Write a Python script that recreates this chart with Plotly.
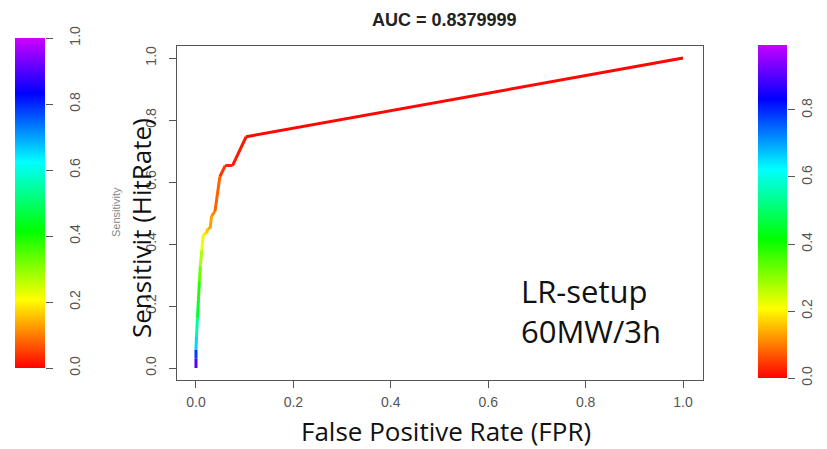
import plotly.graph_objects as go
from plotly.colors import sample_colorscale

# ROC curve (false positive rate, hit rate, cutoff)
fpr = [0, 0, 0, 0.001, 0.003, 0.005, 0.007, 0.009, 0.012, 0.015, 0.022,
       0.024, 0.029, 0.032, 0.039, 0.049, 0.06, 0.075, 0.103, 1.0]
tpr = [0, 0.03, 0.06, 0.10, 0.16, 0.22, 0.28, 0.33, 0.38, 0.43, 0.435,
       0.45, 0.45, 0.49, 0.505, 0.617, 0.653, 0.653, 0.746, 1.0]
cutoff = [0.95, 0.85, 0.72, 0.6, 0.5, 0.42, 0.36, 0.3, 0.25, 0.2, 0.17,
          0.15, 0.14, 0.12, 0.1, 0.06, 0.03, 0.03, 0.01, 0.0]

axis_ticks = [0, 0.2, 0.4, 0.6, 0.8, 1.0]
left_key = [0, 1.0]        # left colour key spans 0..1
right_key = [0, 0.994]     # right colour key spans 0..max cutoff
auc_text = 'AUC = 0.8379999'

# R style rainbow: red -> yellow -> green -> cyan -> blue -> purple
rainbow = [[0.0, '#FF0000'], [0.2083, '#FFFF00'], [0.4167, '#00FF00'],
           [0.625, '#00FFFF'], [0.8333, '#0000FF'], [1.0, '#CC00FF']]

W, H = 827, 449
px = lambda v: v / W
py = lambda v: 1 - v / H

fig = go.Figure()

# curve drawn segment by segment, coloured by cutoff
for i in range(len(fpr) - 1):
    c = sample_colorscale(rainbow, [(cutoff[i] + cutoff[i + 1]) / 2])[0]
    fig.add_trace(go.Scatter(
        x=fpr[i:i + 2], y=tpr[i:i + 2], mode='lines',
        line=dict(color=c, width=3), showlegend=False, hoverinfo='skip'))

# colour keys as smooth heatmaps on their own axes
for key, xa, ya in [(left_key, 'x2', 'y2'), (right_key, 'x3', 'y3')]:
    fig.add_trace(go.Heatmap(
        x=[0, 1], y=key, z=[[key[0], key[0]], [key[1], key[1]]],
        zmin=0, zmax=1, zsmooth='best', colorscale=rainbow,
        showscale=False, hoverinfo='skip', xaxis=xa, yaxis=ya))

tick_font = dict(family='Liberation Sans, Arial', size=14, color='#555')

ax = dict(range=[-0.04, 1.04], tickvals=axis_ticks,
          ticktext=[f'{t:.1f}' for t in axis_ticks],
          showgrid=False, zeroline=False, showline=True, mirror=True,
          linecolor='#555', linewidth=1, ticks='outside', ticklen=7,
          tickcolor='#555', tickfont=tick_font, automargin=False)

def key_axis(ticks, rng, standoff):
    return dict(range=rng, side='right', tickvals=ticks,
                ticktext=[f'{t:.1f}' for t in ticks], tickangle=-90,
                showgrid=False, zeroline=False, showline=False,
                ticks='outside', ticklen=7, tickcolor='#555',
                tickfont=tick_font, ticklabelstandoff=standoff,
                automargin=False)

hidden = dict(visible=False, range=[0, 1])

fig.update_layout(
    width=W, height=H, margin=dict(l=0, r=0, t=0, b=0, autoexpand=False),
    paper_bgcolor='white', plot_bgcolor='white',
    xaxis=dict(ax, domain=[px(176.5), px(702.5)], ticklabelstandoff=2),
    yaxis=dict(ax, domain=[py(380.4), py(45.6)], tickangle=-90,
               ticklabelstandoff=7),
    xaxis2=dict(hidden, domain=[px(15), px(45)], anchor='y2'),
    yaxis2=dict(key_axis(axis_ticks, left_key, 10),
                domain=[py(368), py(38)], anchor='x2'),
    xaxis3=dict(hidden, domain=[px(758), px(787)], anchor='y3'),
    yaxis3=dict(key_axis(axis_ticks[:-1], right_key, 0),
                domain=[py(378), py(45)], anchor='x3'),
    annotations=[
        dict(text='<b>' + auc_text + '</b>', x=px(444), y=py(20),
             font=dict(family='Liberation Sans, Arial', size=18, color='#222')),
        dict(text='Sensitivity', x=px(116), y=py(212), textangle=-90,
             font=dict(family='Liberation Sans, Arial', size=11, color='#888')),
        dict(text='Sensitivit (HitRate)', x=px(141), y=py(228), textangle=-90,
             font=dict(family='Open Sans', size=26, color='#111')),
        dict(text='False Positive Rate (FPR)', x=px(446), y=py(431),
             font=dict(family='Open Sans', size=26, color='#111')),
        dict(text='LR-setup<br>60MW/3h', x=px(519), y=py(311), align='left',
             xanchor='left',
             font=dict(family='Open Sans', size=31, color='#111')),
    ])
fig.update_annotations(xref='paper', yref='paper', showarrow=False)
for a in fig.layout.annotations:
    if a.xanchor is None:
        a.xanchor = 'center'
    a.yanchor = 'middle'

# drop the browser's default body margin so the figure fills the window
fig.write_html('out.html', config={'displayModeBar': False},
               post_script="document.body.style.margin='0';"
                           "document.body.style.overflow='hidden';")
